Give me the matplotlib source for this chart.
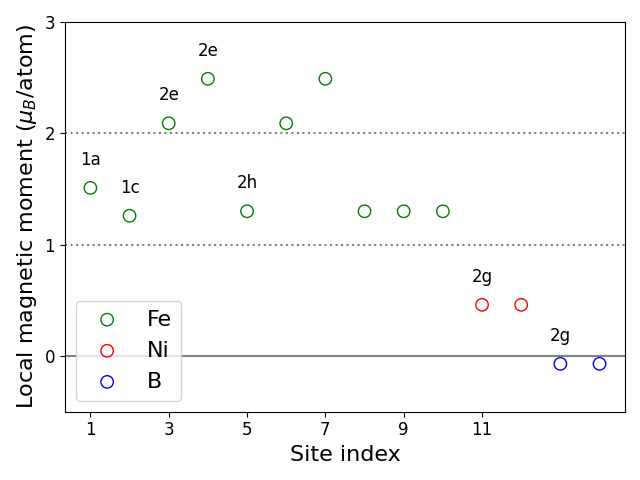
import matplotlib
matplotlib.use("Agg")
import matplotlib.pyplot as plt

# site moments
fe_sites = [1, 2, 3, 4, 5, 6, 7, 8, 9, 10]
fe_moments = [1.51, 1.26, 2.09, 2.49, 1.30, 2.09, 2.49, 1.30, 1.30, 1.30]
ni_sites = [11, 12]
ni_moments = [0.46, 0.46]
b_sites = [13, 14]
b_moments = [-0.07, -0.07]

# Wyckoff labels: (site, moment, label)
wyckoff_sites = [1, 2, 3, 4, 5, 11, 13]
wyckoff_moments = [1.51, 1.26, 2.09, 2.49, 1.30, 0.46, -0.07]
wyckoff_labels = ["1a", "1c", "2e", "2e", "2h", "2g", "2g"]

fig, ax = plt.subplots(figsize=(6.4, 4.8), dpi=100)

ax.axhline(0, color="gray", lw=1.5)
ax.axhline(1, color="gray", lw=1.5, ls=":")
ax.axhline(2, color="gray", lw=1.5, ls=":")

ax.scatter(fe_sites, fe_moments, s=80, facecolors="none", edgecolors="green", label="Fe")
ax.scatter(ni_sites, ni_moments, s=80, facecolors="none", edgecolors="red", label="Ni")
ax.scatter(b_sites, b_moments, s=80, facecolors="none", edgecolors="blue", label="B")

for x, y, lab in zip(wyckoff_sites, wyckoff_moments, wyckoff_labels):
    ax.text(x, y + 0.25, lab, ha="center", va="center", fontsize=12)

ax.set_ylim(-0.5, 3)
ax.set_yticks([0, 1, 2, 3])
ax.set_xticks([1, 3, 5, 7, 9, 11])
ax.tick_params(labelsize=12)
ax.set_xlabel("Site index", fontsize=16)
ax.set_ylabel(r"Local magnetic moment ($\mu_B$/atom)", fontsize=16)
ax.legend(loc="lower left", fontsize=16)

plt.tight_layout()
plt.savefig("out.png")
